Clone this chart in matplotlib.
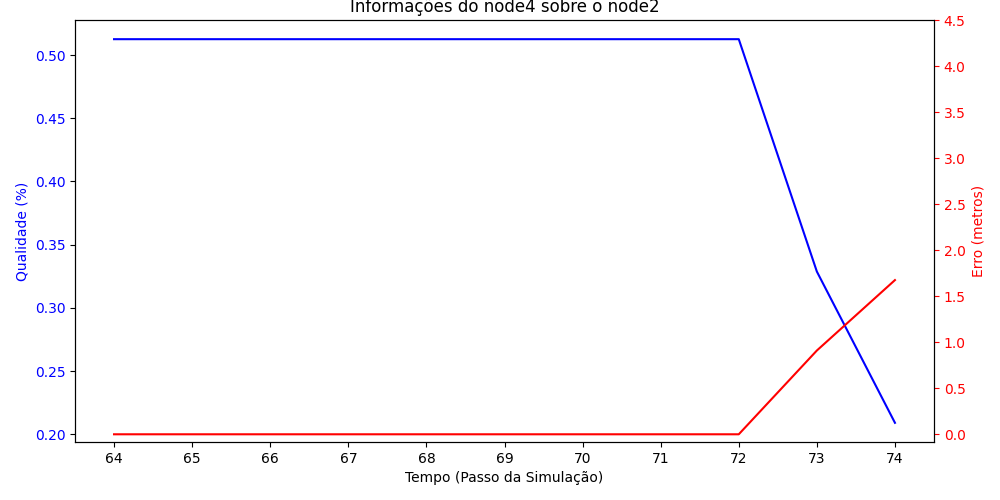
import matplotlib
matplotlib.use("Agg")
import matplotlib.pyplot as plt

# passos da simulação e as duas séries
tempo = [64, 65, 66, 67, 68, 69, 70, 71, 72, 73, 74]
qualidade = [0.5126, 0.5126, 0.5126, 0.5126, 0.5126, 0.5126, 0.5126, 0.5126, 0.5126, 0.3287, 0.2090]
erro = [0.0, 0.0, 0.0, 0.0, 0.0, 0.0, 0.0, 0.0, 0.0, 0.91, 1.675]

fig, ax = plt.subplots(figsize=(10, 5), dpi=100)
fig.subplots_adjust(left=0.075, right=0.934, top=0.96, bottom=0.116)

ax.plot(tempo, qualidade, color='b')
ax.set_xlabel('Tempo (Passo da Simulação)')
ax.set_ylabel('Qualidade (%)', color='b')
ax.tick_params(axis='y', labelcolor='b')
ax.set_xticks(tempo)

ax2 = ax.twinx()
ax2.plot(tempo, erro, color='r')
ax2.set_ylabel('Erro (metros)', color='r')
ax2.set_ylim(top=4.5)
ax2.set_yticks([i * 0.5 for i in range(10)])
ax2.tick_params(axis='y', labelcolor='r', color='r')

ax.set_title('Informações do node4 sobre o node2')

plt.savefig('out.png')
